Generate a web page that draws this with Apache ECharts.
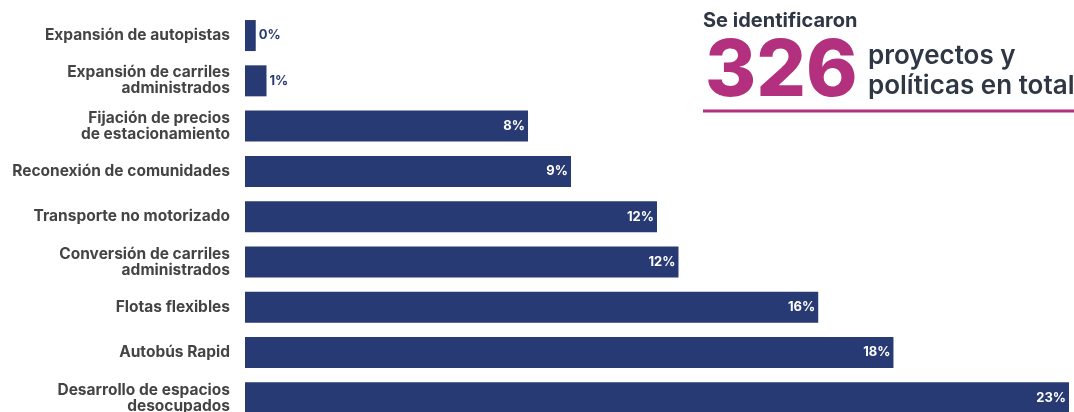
<!DOCTYPE html>
<html>
<head>
<meta charset="utf-8">
<script src="https://cdn.jsdelivr.net/npm/echarts@6/dist/echarts.min.js"></script>
<style>
html,body{margin:0;padding:0;background:#fff;}
#chart{width:1074px;height:412px;}
</style>
</head>
<body>
<div id="chart"></div>
<script>
const categories = [
  "Expansión de autopistas",
  "Expansión de carriles\nadministrados",
  "Fijación de precios\nde estacionamiento",
  "Reconexión de comunidades",
  "Transporte no motorizado",
  "Conversión de carriles\nadministrados",
  "Flotas flexibles",
  "Autobús Rapid",
  "Desarrollo de espacios\ndesocupados"
];
const values = [0.3, 0.6, 7.9, 9.1, 11.5, 12.1, 16.0, 18.1, 23.0];
const headline = "Se identificaron";
const bigNumber = "326";
const subText = "proyectos y\npolíticas en total";

const NAVY = '#273a74';
const MAGENTA = '#b3307e';
const FONT = 'Inter, "Open Sans", sans-serif';

const chart = echarts.init(document.getElementById('chart'));
const data = values.map(v => {
  const item = { value: v };
  if (v < 3) {
    item.label = { position: 'right', distance: 3, color: NAVY };
  }
  return item;
});

chart.setOption({
  animation: false,
  backgroundColor: '#fff',
  grid: { left: 245, width: 824, top: 12.9, height: 407.6, containLabel: false, outerBoundsMode: 'none' },
  xAxis: {
    type: 'value', min: 0, max: 23, show: false
  },
  yAxis: {
    type: 'category', data: categories, inverse: true,
    axisLine: { show: false }, axisTick: { show: false },
    axisLabel: {
      margin: 15, fontFamily: FONT, fontSize: 15.5, fontWeight: 700,
      color: '#444444', lineHeight: 16, align: 'right'
    }
  },
  series: [{
    type: 'bar', data: data, barWidth: 31,
    itemStyle: { color: NAVY },
    label: {
      show: true, position: 'insideRight', distance: 3,
      color: '#fff', fontFamily: FONT, fontSize: 13, fontWeight: 700,
      formatter: p => Math.round(p.value) + '%'
    }
  }],
  graphic: [
    { type: 'text', left: 703, top: 11, style: { text: headline, fontFamily: FONT, fontSize: 20, fontWeight: 700, fill: '#2f3744' } },
    { type: 'text', left: 705, top: 34, style: { text: bigNumber, fontFamily: FONT, fontSize: 78, fontWeight: 800, fill: MAGENTA } },
    { type: 'text', left: 868, top: 41, style: { text: subText, fontFamily: FONT, fontSize: 26, fontWeight: 600, fill: '#2f3744', lineHeight: 30 } },
    { type: 'rect', shape: { x: 703, y: 109.5, width: 371, height: 3 }, style: { fill: MAGENTA } }
  ]
});
</script>
</body>
</html>
